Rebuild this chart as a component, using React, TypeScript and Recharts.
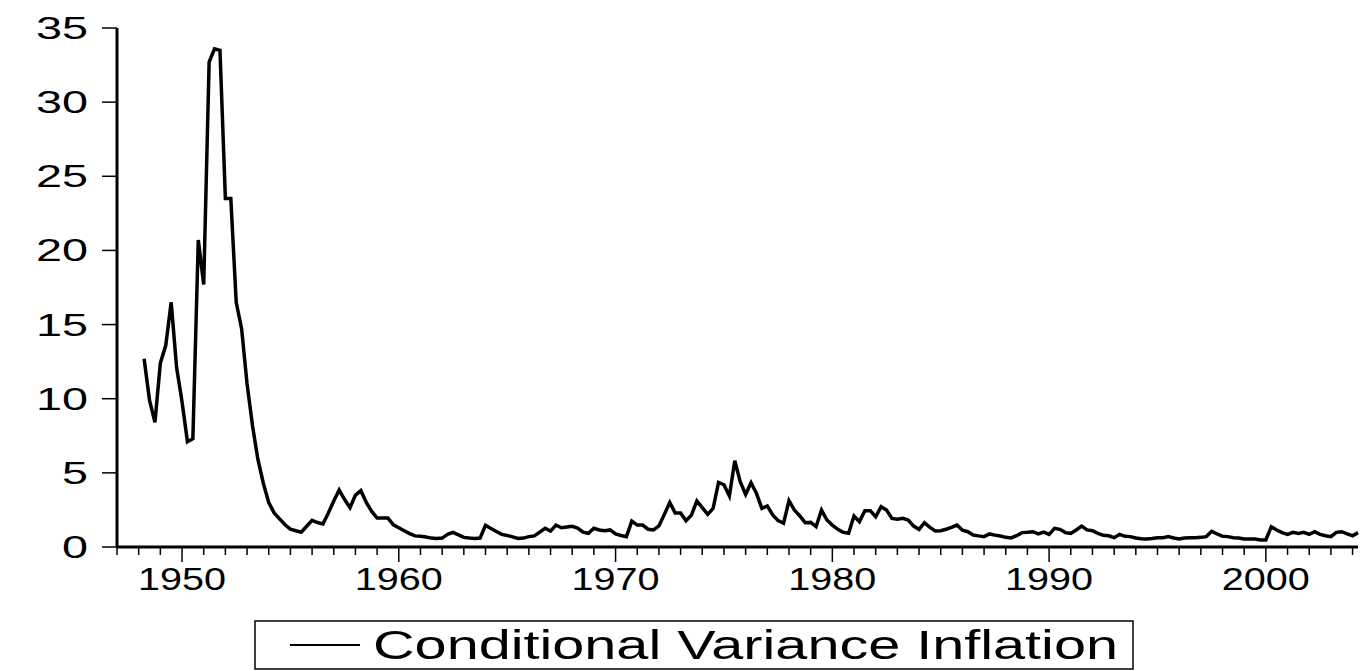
import { LineChart, Line, XAxis, YAxis } from "recharts";

// quarterly observations, 1947Q1 .. 2004Q2 (first five are missing)
const firstYear = 1947;
const cvInflation: (number | null)[] = [
  null, null, null, null, null,
  12.7, 9.9, 8.4, 12.4, 13.6, 16.5, 12.1,
  9.8, 7.1, 7.3, 20.7, 17.7, 32.7, 33.6, 33.5,
  23.5, 23.5, 16.5, 14.7, 11.0, 8.2, 5.9, 4.3,
  3.0, 2.3, 1.9, 1.5, 1.2, 1.1, 1.0, 1.4,
  1.8, 1.65, 1.55, 2.3, 3.1, 3.85, 3.2, 2.65,
  3.5, 3.8, 3.0, 2.4, 1.95, 1.95, 1.95, 1.5,
  1.3, 1.1, 0.9, 0.75, 0.72, 0.68, 0.6, 0.57,
  0.6, 0.85, 0.98, 0.82, 0.65, 0.6, 0.58, 0.6,
  1.46, 1.25, 1.05, 0.85, 0.78, 0.68, 0.58, 0.6,
  0.7, 0.75, 1.0, 1.26, 1.07, 1.48, 1.3, 1.35,
  1.4, 1.28, 1.0, 0.92, 1.26, 1.15, 1.1, 1.15,
  0.88, 0.78, 0.7, 1.75, 1.48, 1.48, 1.2, 1.15,
  1.42, 2.2, 3.0, 2.3, 2.3, 1.77, 2.15, 3.1,
  2.65, 2.2, 2.6, 4.36, 4.2, 3.44, 5.82, 4.4,
  3.55, 4.34, 3.62, 2.6, 2.77, 2.16, 1.78, 1.6,
  3.12, 2.49, 2.09, 1.64, 1.66, 1.37, 2.49, 1.82,
  1.48, 1.19, 0.99, 0.92, 2.09, 1.71, 2.45, 2.45,
  2.04, 2.72, 2.49, 1.93, 1.87, 1.93, 1.82, 1.41,
  1.19, 1.64, 1.32, 1.08, 1.1, 1.2, 1.32, 1.48,
  1.14, 1.03, 0.81, 0.75, 0.7, 0.88, 0.8, 0.74,
  0.65, 0.61, 0.76, 0.97, 0.99, 1.03, 0.88, 1.01,
  0.85, 1.26, 1.19, 0.97, 0.92, 1.15, 1.41, 1.15,
  1.1, 0.92, 0.79, 0.76, 0.63, 0.85, 0.72, 0.7,
  0.61, 0.56, 0.54, 0.58, 0.63, 0.63, 0.7, 0.61,
  0.54, 0.6, 0.63, 0.63, 0.65, 0.7, 1.06, 0.88,
  0.72, 0.7, 0.63, 0.61, 0.54, 0.54, 0.54, 0.47,
  0.47, 1.37, 1.15, 0.97, 0.85, 0.99, 0.92, 0.99,
  0.85, 1.03, 0.85, 0.76, 0.7, 0.99, 1.03, 0.88,
  0.76, 0.97,
];

const yearTicks = [
  1947, 1948, 1949, 1950, 1951, 1952, 1953, 1954, 1955, 1956, 1957, 1958,
  1959, 1960, 1961, 1962, 1963, 1964, 1965, 1966, 1967, 1968, 1969, 1970,
  1971, 1972, 1973, 1974, 1975, 1976, 1977, 1978, 1979, 1980, 1981, 1982,
  1983, 1984, 1985, 1986, 1987, 1988, 1989, 1990, 1991, 1992, 1993, 1994,
  1995, 1996, 1997, 1998, 1999, 2000, 2001, 2002, 2003, 2004,
];
const yTicks = [0, 5, 10, 15, 20, 25, 30, 35];
const seriesName = "Conditional Variance Inflation";

const data = cvInflation.map((v, i) => ({ t: firstYear + i / 4, cv: v }));
const lastT = firstYear + (cvInflation.length - 1) / 4;

const FONT = "'Liberation Sans', Arial, sans-serif";

function YearTick(props: any) {
  const { x, y, payload } = props;
  const year = payload.value as number;
  const major = year % 10 === 0;
  return (
    <g>
      <line x1={x} x2={x} y1={y} y2={y + (major ? 15 : 8)} stroke="#000" strokeWidth={1.5} />
      {major && (
        <text
          x={x}
          y={y + 43}
          textAnchor="middle"
          fontFamily={FONT}
          fontSize={32}
          textLength={88}
          lengthAdjust="spacingAndGlyphs"
          fill="#000"
        >
          {year}
        </text>
      )}
    </g>
  );
}

function ValueTick(props: any) {
  const { x, y, payload } = props;
  const s = String(payload.value);
  return (
    <text
      x={x}
      y={y}
      dy={11}
      textAnchor="end"
      fontFamily={FONT}
      fontSize={32}
      textLength={26 * s.length}
      lengthAdjust="spacingAndGlyphs"
      fill="#000"
    >
      {s}
    </text>
  );
}

export default function App() {
  return (
    <div style={{ position: "absolute", left: 0, top: 0, width: 1360, height: 671, background: "#fff" }}>
      <LineChart
        width={1360}
        height={671}
        data={data}
        margin={{ top: 28, right: 2, left: 0, bottom: 64 }}
      >
        <XAxis
          dataKey="t"
          type="number"
          domain={[firstYear, lastT]}
          ticks={yearTicks}
          interval={0}
          height={60}
          tickSize={0}
          tickMargin={0}
          tickLine={false}
          tick={<YearTick />}
          axisLine={{ stroke: "#000", strokeWidth: 3 }}
        />
        <XAxis
          xAxisId="top"
          orientation="top"
          type="number"
          dataKey="t"
          domain={[firstYear, lastT]}
          height={0}
          tick={false}
          tickLine={false}
          axisLine={{ stroke: "#666", strokeWidth: 1.5 }}
        />
        <YAxis
          type="number"
          domain={[0, 35]}
          ticks={yTicks}
          interval={0}
          width={117}
          tickSize={15}
          tickMargin={14}
          tickLine={{ stroke: "#000", strokeWidth: 1.5 }}
          tick={<ValueTick />}
          axisLine={{ stroke: "#000", strokeWidth: 3 }}
        />
        <YAxis
          yAxisId="right"
          orientation="right"
          type="number"
          domain={[0, 35]}
          width={0}
          tick={false}
          tickLine={false}
          axisLine={{ stroke: "#000", strokeWidth: 3 }}
        />
        <Line
          type="linear"
          dataKey="cv"
          name={seriesName}
          stroke="#000"
          strokeWidth={3.5}
          dot={false}
          connectNulls={false}
          isAnimationActive={false}
        />
      </LineChart>
      <svg width={1360} height={671} style={{ position: "absolute", left: 0, top: 0, pointerEvents: "none" }}>
        <rect x={255} y={621} width={878} height={48} fill="none" stroke="#000" strokeWidth={1.5} />
        <line x1={290} x2={360} y1={645} y2={645} stroke="#000" strokeWidth={2} />
        <text
          x={373}
          y={659}
          fontFamily={FONT}
          fontSize={40}
          textLength={745}
          lengthAdjust="spacingAndGlyphs"
          fill="#000"
        >
          {seriesName}
        </text>
      </svg>
    </div>
  );
}
